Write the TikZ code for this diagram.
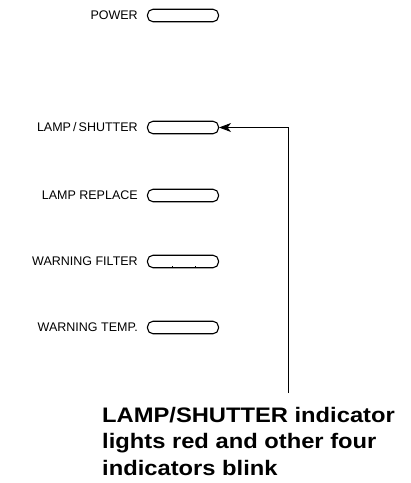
\documentclass[tikz,border=0pt]{standalone}
\usepackage{fontspec}
\setmainfont{Liberation Sans}
\newfontfamily\notefont[FakeStretch=1.13]{Liberation Sans Bold}
\usetikzlibrary{positioning,arrows.meta}

\begin{document}
\begin{tikzpicture}[
  x=1pt, y=-1pt,
  every node/.style={font=\fontsize{12.5}{14}\selectfont},
  lamp/.style={draw, rounded corners=5.5pt, minimum width=71pt, minimum height=12.5pt, inner sep=0pt, line width=1.1pt},
  tag/.style={left=9pt of #1, inner sep=0pt},
  pointer/.style={draw, line width=0.9pt, -{Stealth[length=12pt,width=9pt,inset=3.5pt]}}
]
\useasboundingbox (0,0) rectangle (411,483);

% indicators
\node[lamp] (power)   at (183,15.5)  {};
\node[lamp] (shutter) at (183,127.5) {};
\node[lamp] (replace) at (183,195.5) {};
\node[lamp] (filter)  at (183,261.5) {};
\node[lamp] (temp)    at (183,327.5) {};

\node[tag=power]   (powertag)   {POWER};
\node[tag=shutter] (shuttertag) {LAMP\,/\,SHUTTER};
\node[tag=replace] (replacetag) {LAMP REPLACE};
\node[tag=filter]  (filtertag)  {WARNING FILTER};
\node[tag=temp]    (temptag)    {WARNING TEMP.};

% small marks on the filter lamp
\draw[line width=1pt] (172,267.75) -- ++(0,-1.5);
\draw[line width=1pt] (195,267.75) -- ++(0,-1.5);

% callout
\coordinate (tail) at (288,393);
\draw[pointer] (tail) |- (shutter.east);

\node[anchor=base west, align=left, inner sep=0pt,
      font=\fontsize{21}{26.5}\selectfont\notefont] (note) at (102,475)
  {LAMP/SHUTTER indicator\\lights red and other four\\indicators blink};
\end{tikzpicture}
\end{document}
